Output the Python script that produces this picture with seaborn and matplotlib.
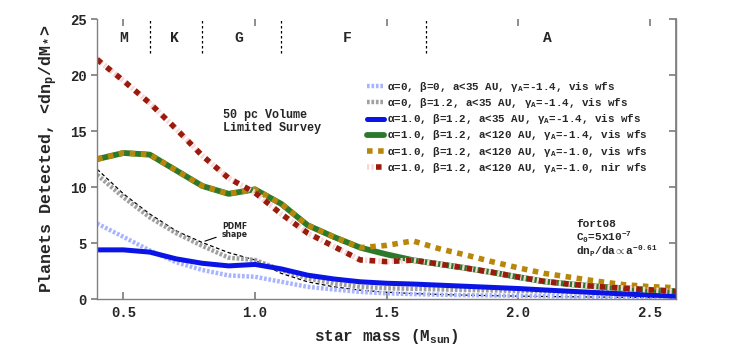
import matplotlib
matplotlib.use("Agg")
import matplotlib.pyplot as plt
import pandas as pd
import seaborn as sns
from matplotlib.legend_handler import HandlerTuple

# star mass grid (M_sun)
mass = [0.4, 0.5, 0.6, 0.7, 0.8, 0.9, 1.0, 1.1, 1.2, 1.3, 1.4, 1.5,
        1.6, 1.7, 1.8, 1.9, 2.0, 2.1, 2.2, 2.3, 2.4, 2.5, 2.6]

# planets detected per unit stellar mass
a0_b0_35 = [6.75, 5.56, 4.35, 3.3, 2.6, 2.12, 2.0, 1.55, 1.1, 0.86, 0.65, 0.52,
            0.45, 0.4, 0.36, 0.33, 0.3, 0.27, 0.24, 0.21, 0.18, 0.16, 0.14]
a0_b12_35 = [11.1, 9.1, 7.3, 5.9, 4.75, 3.7, 3.5, 2.6, 1.85, 1.4, 1.1, 0.97,
             0.92, 0.87, 0.82, 0.78, 0.74, 0.7, 0.66, 0.62, 0.58, 0.54, 0.5]
a1_b12_35 = [4.4, 4.4, 4.2, 3.6, 3.2, 2.97, 3.1, 2.7, 2.14, 1.8, 1.55, 1.42,
             1.35, 1.25, 1.15, 1.05, 0.95, 0.82, 0.7, 0.58, 0.47, 0.37, 0.27]
a1_b12_120_g14 = [12.5, 13.05, 12.9, 11.5, 10.1, 9.4, 9.8, 8.5, 6.6, 5.55, 4.6, 4.0,
                  3.48, 3.13, 2.78, 2.4, 1.97, 1.58, 1.33, 1.13, 0.98, 0.83, 0.7]
a1_b12_120_g10 = [12.5, 13.05, 12.9, 11.5, 10.1, 9.4, 9.8, 8.5, 6.6, 5.55, 4.6, 4.8,
                  5.2, 4.5, 3.95, 3.35, 2.8, 2.3, 1.95, 1.6, 1.3, 1.12, 1.02]
a1_b12_120_nir = [21.4, 19.5, 17.5, 15.2, 12.8, 10.8, 9.5, 7.6, 5.9, 4.7, 3.5, 3.35,
                  3.48, 3.13, 2.78, 2.4, 1.97, 1.58, 1.33, 1.13, 0.98, 0.83, 0.7]
pdmf_shape = [11.6, 9.4, 7.6, 6.1, 5.05, 4.15, 3.5, 2.3, 1.55, 1.1, 0.8, 0.62,
              0.5, 0.42, 0.36, 0.31, 0.27, 0.24, 0.21, 0.19, 0.17, 0.15, 0.14]

labels = [
    "α=0, β=0, a<35 AU, γ$_A$=-1.4, vis wfs",
    "α=0, β=1.2, a<35 AU, γ$_A$=-1.4, vis wfs",
    "α=1.0, β=1.2, a<35 AU, γ$_A$=-1.4, vis wfs",
    "α=1.0, β=1.2, a<120 AU, γ$_A$=-1.4, vis wfs",
    "α=1.0, β=1.2, a<120 AU, γ$_A$=-1.0, vis wfs",
    "α=1.0, β=1.2, a<120 AU, γ$_A$=-1.0, nir wfs",
]

# spectral type boundaries and labels
type_bounds = [0.6, 0.8, 1.1, 1.65]
type_names = ["M", "K", "G", "F", "A"]
type_pos = [0.5, 0.695, 0.94, 1.35, 2.11]

sns.set_theme(style="ticks")
plt.rcParams["font.family"] = ["Liberation Mono", "DejaVu Sans Mono"]
plt.rcParams["font.weight"] = "bold"
plt.rcParams["axes.labelweight"] = "bold"
plt.rcParams["mathtext.fontset"] = "custom"
plt.rcParams["mathtext.rm"] = "Liberation Mono:bold"
plt.rcParams["mathtext.it"] = "Liberation Mono:bold"
plt.rcParams["mathtext.bf"] = "Liberation Mono:bold"

df = pd.DataFrame({"mass": mass, "s1": a0_b0_35, "s2": a0_b12_35, "s3": a1_b12_35,
                   "s4": a1_b12_120_g14, "s5": a1_b12_120_g10, "s6": a1_b12_120_nir,
                   "pdmf": pdmf_shape})

fig = plt.figure(figsize=(7.47, 3.6), dpi=100)
ax = fig.add_axes([0.130, 0.169, 0.775, 0.778])

sns.lineplot(data=df, x="mass", y="pdmf", ax=ax, color="black", linewidth=0.9,
             linestyle=(0, (3, 2)))
sns.lineplot(data=df, x="mass", y="s1", ax=ax, color="#a8b4ff", linewidth=3.2,
             linestyle=(0, (0.6, 0.4)))
sns.lineplot(data=df, x="mass", y="s2", ax=ax, color="#a0a0a0", linewidth=3.2,
             linestyle=(0, (0.6, 0.4)))
sns.lineplot(data=df, x="mass", y="s3", ax=ax, color="#0a14e6", linewidth=3.6)
sns.lineplot(data=df, x="mass", y="s4", ax=ax, color="#2b7a2b", linewidth=4.2)
sns.lineplot(data=df, x="mass", y="s5", ax=ax, color="#b8860b", linewidth=4.0,
             linestyle=(0, (1, 1)))
sns.lineplot(data=df, x="mass", y="s6", ax=ax, color="#f6d6d6", linewidth=4.0,
             linestyle=(0, (0.4, 0.4)))
sns.lineplot(data=df, x="mass", y="s6", ax=ax, color="#9a1b0c", linewidth=4.0,
             linestyle=(0, (1, 1.2)))

lines = ax.get_lines()
handles = [lines[1], lines[2], lines[3], lines[4], lines[5], (lines[6], lines[7])]
ax.legend(handles, labels, handler_map={tuple: HandlerTuple(ndivide=None)},
          loc="upper left", bbox_to_anchor=(367 / 747, 1 - 80 / 360),
          bbox_transform=fig.transFigure, frameon=False, fontsize=7.8,
          handlelength=1.6, handletextpad=0.25, labelspacing=0.2,
          borderpad=0, borderaxespad=0)

for b in type_bounds:
    ax.plot([b, b], [22.0, 25], color="black", linewidth=0.9, linestyle=(0, (2, 2)))
for name, p in zip(type_names, type_pos):
    ax.text(p, 23.3, name, ha="center", va="center", fontsize=10.5, fontweight="bold")

ax.text(0.88, 16.95, "50 pc Volume\nLimited Survey", fontsize=8.5, fontweight="bold",
        va="top", ha="left", linespacing=1.05)
ax.annotate("PDMF\nshape", xy=(0.80, 5.1), xytext=(0.875, 6.1), fontsize=5.5,
            fontweight="bold", ha="left", va="center", linespacing=0.9,
            family=["DejaVu Sans"],
            arrowprops=dict(arrowstyle="-", color="black", lw=0.8))
ax.text(2.22, 6.75, "fort08", fontsize=8, fontweight="bold", va="center")
ax.text(2.22, 5.55, "C$_0$=5x10$^{-7}$", fontsize=8, fontweight="bold", va="center")
ax.text(2.22, 4.3, r"dn$_P$/da$\propto$a$^{-0.61}$", fontsize=8, fontweight="bold",
        va="center")

ax.set_xlim(0.4, 2.6)
ax.set_ylim(0, 25)
ax.set_xticks([0.5, 1.0, 1.5, 2.0, 2.5])
ax.set_yticks([0, 5, 10, 15, 20, 25])
ax.set_xlabel("star mass (M$_{sun}$)", fontsize=11.5, fontweight="bold", labelpad=5)
ax.set_ylabel("Planets Detected, <dn$_p$/dM$_*$>", fontsize=12, fontweight="bold",
              labelpad=7)

for side in ["left", "bottom", "right"]:
    ax.spines[side].set_color("#808080")
    ax.spines[side].set_linewidth(1.0)
ax.spines["top"].set_visible(False)
ax.tick_params(axis="x", direction="in", top=True, length=5, color="#808080",
               labelsize=10, pad=5)
ax.tick_params(axis="y", direction="out", length=4, color="#808080", labelsize=10)
for t in ax.get_xticklabels() + ax.get_yticklabels():
    t.set_fontweight("bold")
right = ax.secondary_yaxis("right")
right.set_yticks([0, 5, 10, 15, 20, 25])
right.tick_params(direction="in", length=5, color="#808080", labelright=False)
right.spines["right"].set_color("#808080")

fig.savefig("out.png", dpi=100)
